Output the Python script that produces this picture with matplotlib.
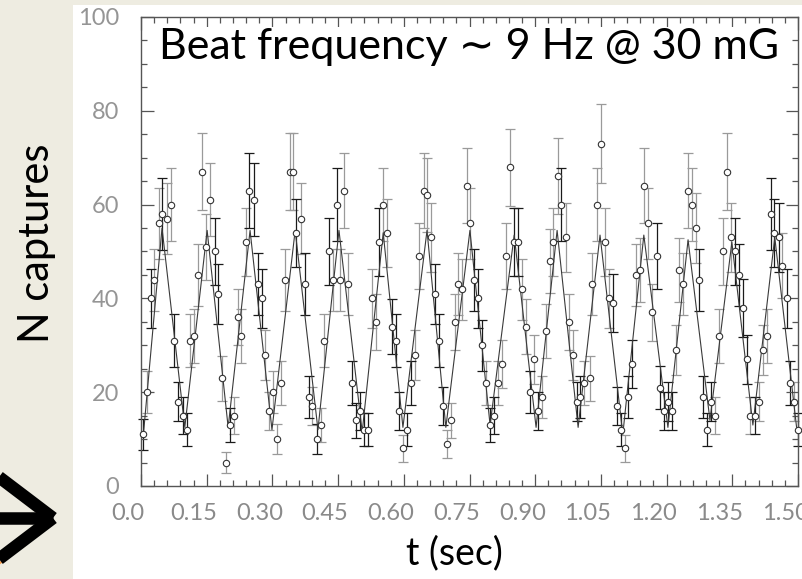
import numpy as np
import matplotlib.pyplot as plt
from matplotlib.ticker import MultipleLocator
from matplotlib.patches import Rectangle
from matplotlib.lines import Line2D
import matplotlib.transforms as mtransforms

# capture counts (t in s)
t = [0.005, 0.013, 0.022, 0.030, 0.041, 0.049, 0.059, 0.068, 0.076, 0.085,
     0.095, 0.104, 0.113, 0.122, 0.131, 0.140, 0.148, 0.158, 0.168, 0.176,
     0.185, 0.194, 0.203, 0.213, 0.221, 0.228, 0.239, 0.247, 0.257, 0.266,
     0.276, 0.284, 0.293, 0.302, 0.311, 0.320, 0.329, 0.341, 0.347, 0.355,
     0.365, 0.374, 0.384, 0.391, 0.401, 0.411, 0.418, 0.429, 0.438, 0.447,
     0.455, 0.464, 0.473, 0.482, 0.491, 0.500, 0.508, 0.518, 0.527, 0.537,
     0.544, 0.553, 0.562, 0.572, 0.582, 0.590, 0.599, 0.608, 0.616, 0.626,
     0.635, 0.645, 0.653, 0.662, 0.671, 0.680, 0.689, 0.698, 0.707, 0.717,
     0.724, 0.734, 0.744, 0.751, 0.761, 0.770, 0.779, 0.788, 0.797, 0.806,
     0.816, 0.825, 0.833, 0.843, 0.852, 0.861, 0.869, 0.878, 0.888, 0.897,
     0.906, 0.916, 0.924, 0.933, 0.941, 0.951, 0.959, 0.970, 0.978, 0.987,
     0.996, 1.002, 1.011, 1.024, 1.030, 1.040, 1.050, 1.059, 1.068, 1.077,
     1.086, 1.095, 1.105, 1.113, 1.122, 1.130, 1.139, 1.148, 1.158, 1.167,
     1.177, 1.185, 1.194, 1.204, 1.213, 1.221, 1.229, 1.238, 1.248, 1.257,
     1.266, 1.275, 1.284, 1.293, 1.301, 1.311, 1.320, 1.329, 1.338, 1.347,
     1.356, 1.365, 1.375, 1.383, 1.390, 1.402, 1.411, 1.419, 1.429, 1.438,
     1.446, 1.456, 1.464, 1.474, 1.482, 1.492, 1.499]
counts = [11, 20, 40, 44, 56, 58, 57, 60, 31, 18,
          15, 12, 31, 32, 45, 67, 51, 61, 50, 41,
          23, 5, 13, 15, 36, 32, 52, 63, 61, 43,
          40, 28, 16, 20, 10, 22, 44, 67, 67, 54,
          57, 43, 19, 17, 10, 13, 31, 50, 44, 60,
          44, 63, 43, 22, 14, 16, 12, 12, 40, 35,
          52, 60, 54, 34, 31, 16, 8, 12, 22, 28,
          49, 63, 62, 53, 41, 31, 17, 9, 14, 35,
          43, 42, 64, 56, 44, 40, 30, 22, 13, 15,
          22, 26, 49, 68, 52, 52, 42, 34, 20, 27,
          16, 19, 33, 48, 52, 66, 60, 53, 35, 28,
          18, 19, 22, 23, 43, 60, 73, 52, 40, 39,
          17, 12, 8, 19, 26, 45, 46, 64, 56, 37,
          49, 21, 16, 18, 16, 29, 46, 43, 63, 60,
          55, 44, 19, 12, 18, 15, 32, 50, 67, 53,
          50, 45, 38, 27, 15, 15, 18, 29, 32, 58,
          54, 53, 47, 40, 22, 18, 12]
err = [3.3, 4.5, 6.3, 6.6, 7.5, 7.6, 7.5, 7.7, 5.6, 4.2,
       3.9, 3.5, 5.6, 5.7, 6.7, 8.2, 7.1, 7.8, 7.1, 6.4,
       4.8, 2.2, 3.6, 3.9, 6.0, 5.7, 7.2, 7.9, 7.8, 6.6,
       6.3, 5.3, 4.0, 4.5, 3.2, 4.7, 6.6, 8.2, 8.2, 7.3,
       7.5, 6.6, 4.4, 4.1, 3.2, 3.6, 5.6, 7.1, 6.6, 7.7,
       6.6, 7.9, 6.6, 4.7, 3.7, 4.0, 3.5, 3.5, 6.3, 5.9,
       7.2, 7.7, 7.3, 5.8, 5.6, 4.0, 2.8, 3.5, 4.7, 5.3,
       7.0, 7.9, 7.9, 7.3, 6.4, 5.6, 4.1, 3.0, 3.7, 5.9,
       6.6, 6.5, 8.0, 7.5, 6.6, 6.3, 5.5, 4.7, 3.6, 3.9,
       4.7, 5.1, 7.0, 8.2, 7.2, 7.2, 6.5, 5.8, 4.5, 5.2,
       4.0, 4.4, 5.7, 6.9, 7.2, 8.1, 7.7, 7.3, 5.9, 5.3,
       4.2, 4.4, 4.7, 4.8, 6.6, 7.7, 8.5, 7.2, 6.3, 6.2,
       4.1, 3.5, 2.8, 4.4, 5.1, 6.7, 6.8, 8.0, 7.5, 6.1,
       7.0, 4.6, 4.0, 4.2, 4.0, 5.4, 6.8, 6.6, 7.9, 7.7,
       7.4, 6.6, 4.4, 3.5, 4.2, 3.9, 5.7, 7.1, 8.2, 7.3,
       7.1, 6.7, 6.2, 5.2, 3.9, 3.9, 4.2, 5.4, 5.7, 7.6,
       7.3, 7.3, 6.9, 6.3, 4.7, 4.2, 3.5]
# 1 = black error bar, 0 = grey error bar
dark = [1, 0, 1, 0, 0, 1, 0, 0, 1, 1,
        1, 1, 0, 0, 0, 0, 0, 0, 1, 1,
        0, 0, 1, 0, 0, 0, 0, 1, 1, 1,
        1, 0, 0, 0, 0, 0, 0, 0, 0, 1,
        0, 1, 1, 0, 1, 0, 0, 1, 0, 1,
        0, 0, 0, 1, 1, 1, 1, 1, 0, 0,
        1, 0, 0, 1, 1, 1, 0, 1, 1, 0,
        0, 0, 0, 0, 1, 1, 1, 0, 0, 0,
        0, 0, 0, 0, 1, 1, 1, 0, 1, 1,
        0, 0, 0, 0, 1, 1, 0, 0, 1, 0,
        1, 0, 0, 0, 0, 0, 1, 0, 0, 0,
        1, 1, 0, 0, 0, 0, 0, 0, 0, 1,
        1, 1, 0, 1, 1, 0, 0, 0, 0, 0,
        1, 1, 1, 1, 1, 0, 0, 0, 0, 0,
        0, 1, 1, 1, 1, 0, 0, 0, 0, 0,
        1, 1, 1, 1, 0, 1, 0, 0, 0, 1,
        1, 1, 0, 1, 1, 0, 1]

# fitted curve, turning points
fit_t = [0.005, 0.048, 0.100, 0.151, 0.199, 0.249, 0.299, 0.352, 0.404, 0.452,
         0.505, 0.553, 0.598, 0.653, 0.696, 0.751, 0.797, 0.852, 0.902, 0.950,
         0.998, 1.048, 1.100, 1.148, 1.203, 1.249, 1.299, 1.349, 1.397, 1.447,
         1.498]
fit_n = [10.5, 55, 12.5, 54.5, 12.5, 54.5, 12, 54.5, 12, 54.5,
         11.5, 54, 12.5, 54.5, 12.5, 54.5, 13, 53.5, 12.5, 54.5,
         12.5, 53.5, 11, 53.5, 12.5, 52.5, 14, 52, 13, 53,
         11.5]

xticks = [0.0, 0.15, 0.30, 0.45, 0.60, 0.75, 0.90, 1.05, 1.20, 1.35, 1.50]
xticklabels = ['0.0', '0.15', '0.30', '0.45', '0.60', '0.75', '0.90', '1.05', '1.20', '1.35', '1.50']
yticks = [0, 20, 40, 60, 80, 100]

plt.rcParams['font.family'] = ['Lato', 'DejaVu Sans']

W, H = 803, 579
fig = plt.figure(figsize=(W / 100, H / 100), dpi=100, facecolor='#EEECE1')
fig.add_artist(Rectangle((73 / W, 0), 1, 1 - 5 / H, transform=fig.transFigure,
                         facecolor='white', edgecolor='none', zorder=-5))

ax = fig.add_axes([141 / W, 1 - 486 / H, 657 / W, 469 / H])
ax.plot(fit_t, fit_n, color='#3a3a3a', lw=0.8, zorder=2)

t = np.asarray(t)
counts = np.asarray(counts)
err = np.asarray(err)
dark = np.asarray(dark, dtype=bool)
for mask, col in [(~dark, '#9a9a9a'), (dark, '#1a1a1a')]:
    ax.errorbar(t[mask], counts[mask], yerr=err[mask], fmt='none', ecolor=col,
                elinewidth=0.9, capsize=3.5, capthick=0.9, zorder=1, clip_on=False)
ax.plot(t, counts, 'o', ms=4.6, mfc='white', mec='#333333', mew=0.8, zorder=3, clip_on=False)

ax.set_xlim(0, 1.5)
ax.set_ylim(0, 100)
ax.set_xticks(xticks)
ax.set_xticklabels(xticklabels)
ax.set_yticks(yticks)
ax.xaxis.set_minor_locator(MultipleLocator(0.03))
ax.yaxis.set_minor_locator(MultipleLocator(5))
ax.tick_params(which='both', direction='in', top=True, right=True, color='#555555', width=0.9)
ax.tick_params(which='major', length=9)
ax.tick_params(which='minor', length=4.5)
ax.tick_params(axis='x', labelsize=17, labelcolor='#8a8a8a', pad=12)
ax.tick_params(axis='y', labelsize=17, labelcolor='#959595', pad=16)
for s in ax.spines.values():
    s.set_color('#555555')
    s.set_linewidth(1.0)

shift = mtransforms.ScaledTranslation(-13 / 100, 0, fig.dpi_scale_trans)
for lab in ax.get_xticklabels():
    lab.set_transform(lab.get_transform() + shift)

ax.text(0.5, 0.935, 'Beat frequency \u223c 9 Hz @ 30 mG', transform=ax.transAxes,
        ha='center', va='center', fontsize=31, color='black',
        bbox=dict(facecolor='white', edgecolor='none', pad=1), zorder=5)

fig.text(37 / W, 1 - 243 / H, 'N captures', rotation=90, ha='center', va='center',
         fontsize=30, color='black')
fig.text(454 / W, 1 - 553 / H, 't (sec)', ha='center', va='center',
         fontsize=27, color='black')

# slide arrow at lower left
fig.add_artist(Line2D([0, 50 / W], [1 - 563 / H, 1 - 524 / H], transform=fig.transFigure,
                      color='#F79646', lw=1.5, zorder=1))
for xs, ys in [([-5, 53], [474, 518]), ([53, -5], [518, 562]), ([-5, 53], [518, 518])]:
    fig.add_artist(Line2D([x / W for x in xs], [1 - y / H for y in ys],
                          transform=fig.transFigure, color='black', lw=9,
                          solid_capstyle='butt', zorder=2))

fig.savefig('out.png', dpi=100, facecolor=fig.get_facecolor())
